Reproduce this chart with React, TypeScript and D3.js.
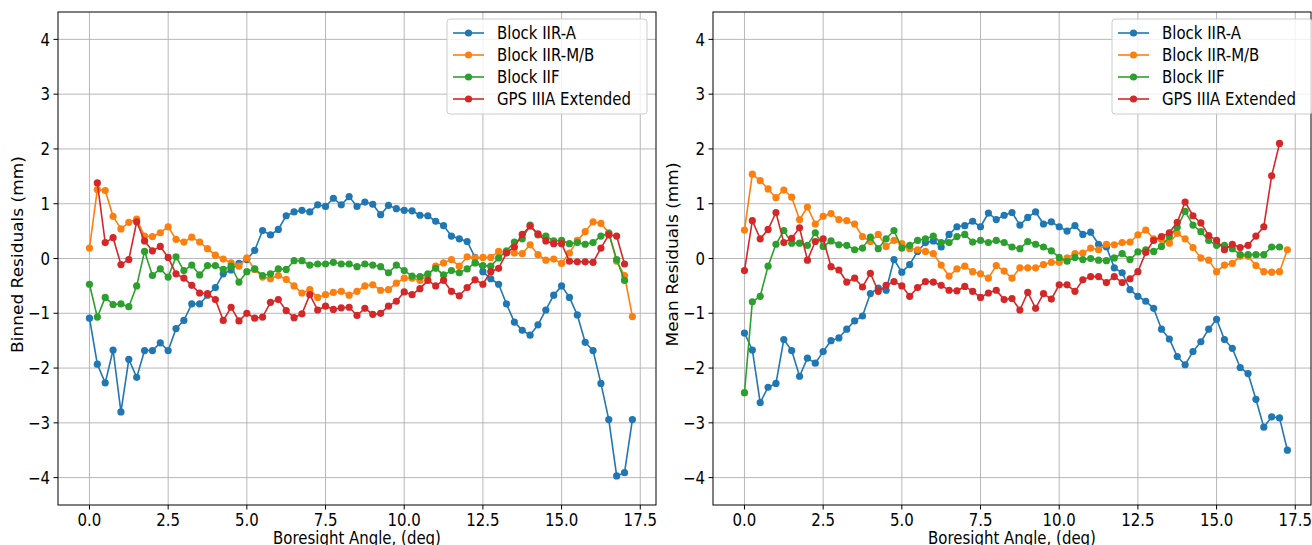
import * as d3 from 'd3';

// boresight angle bins (deg)
const angles = [
  0, 0.25, 0.5, 0.75, 1, 1.25, 1.5, 1.75, 2, 2.25, 2.5, 2.75, 3, 3.25, 3.5, 3.75, 4, 4.25, 4.5, 4.75,
  5, 5.25, 5.5, 5.75, 6, 6.25, 6.5, 6.75, 7, 7.25, 7.5, 7.75, 8, 8.25, 8.5, 8.75, 9, 9.25, 9.5, 9.75,
  10, 10.25, 10.5, 10.75, 11, 11.25, 11.5, 11.75, 12, 12.25, 12.5, 12.75, 13, 13.25, 13.5, 13.75,
  14, 14.25, 14.5, 14.75, 15, 15.25, 15.5, 15.75, 16, 16.25, 16.5, 16.75, 17, 17.25,
];

const seriesNames = ['Block IIR-A', 'Block IIR-M/B', 'Block IIF', 'GPS IIIA Extended'];
const seriesColors = ['#1f77b4', '#ff7f0e', '#2ca02c', '#d62728'];

// left panel: binned residuals (mm)
const binnedIIRA = [
  -1.09, -1.93, -2.27, -1.67, -2.8, -1.84, -2.17, -1.68, -1.68, -1.54,
  -1.68, -1.28, -1.13, -0.83, -0.83, -0.67, -0.53, -0.28, -0.21, -0.09,
  -0.02, 0.15, 0.51, 0.43, 0.53, 0.78, 0.85, 0.88, 0.85, 0.98,
  0.95, 1.1, 0.98, 1.13, 0.95, 1.03, 0.99, 0.8, 0.97, 0.91,
  0.88, 0.87, 0.79, 0.78, 0.68, 0.6, 0.41, 0.36, 0.31, 0.02,
  -0.24, -0.37, -0.47, -0.83, -1.16, -1.31, -1.4, -1.21, -0.94, -0.67,
  -0.5, -0.71, -1.03, -1.53, -1.68, -2.28, -2.94, -3.97, -3.91, -2.94,
];
const binnedIIRMB = [
  0.19, 1.26, 1.24, 0.77, 0.54, 0.66, 0.72, 0.41, 0.4, 0.47,
  0.58, 0.35, 0.3, 0.39, 0.3, 0.18, 0.06, -0.01, -0.08, -0.14,
  0.01, -0.2, -0.34, -0.37, -0.31, -0.38, -0.5, -0.63, -0.57, -0.71,
  -0.66, -0.62, -0.6, -0.67, -0.6, -0.5, -0.48, -0.58, -0.57, -0.45,
  -0.36, -0.36, -0.4, -0.31, -0.14, -0.08, -0.02, -0.14, 0.03, 0.01,
  0.02, 0.02, 0.13, 0.12, 0.1, 0.09, 0.25, 0.07, -0.03, -0.01,
  -0.09, 0.1, 0.33, 0.49, 0.67, 0.64, 0.47, -0.05, -0.31, -1.06,
];
const binnedIIF = [
  -0.47, -1.07, -0.71, -0.84, -0.83, -0.88, -0.5, 0.13, -0.31, -0.19,
  -0.34, 0.03, -0.22, -0.12, -0.3, -0.13, -0.13, -0.2, -0.14, -0.43,
  -0.24, -0.19, -0.31, -0.28, -0.19, -0.2, -0.04, -0.04, -0.12, -0.1,
  -0.1, -0.07, -0.1, -0.1, -0.15, -0.1, -0.12, -0.15, -0.26, -0.12,
  -0.22, -0.32, -0.33, -0.28, -0.18, -0.3, -0.22, -0.26, -0.19, -0.08,
  -0.13, -0.14, 0.01, 0.14, 0.3, 0.36, 0.61, 0.43, 0.41, 0.32,
  0.33, 0.27, 0.29, 0.26, 0.29, 0.41, 0.46, -0.02, -0.4, null,
];
const binnedIIIA = [
  null, 1.38, 0.29, 0.38, -0.11, -0.02, 0.67, 0.32, 0.14, 0.22,
  0.02, -0.28, -0.36, -0.49, -0.63, -0.64, -0.75, -1.13, -0.89, -1.14,
  -1.0, -1.09, -1.07, -0.8, -0.75, -0.95, -1.08, -1.01, -0.66, -0.94,
  -0.87, -0.93, -0.9, -0.89, -1.04, -0.91, -1.02, -1.0, -0.87, -0.78,
  -0.61, -0.66, -0.55, -0.4, -0.5, -0.4, -0.6, -0.68, -0.53, -0.39,
  -0.47, -0.24, -0.18, 0.1, 0.21, 0.44, 0.59, 0.45, 0.32, 0.27,
  0.27, -0.05, -0.06, -0.06, -0.07, 0.19, 0.43, 0.41, -0.1, null,
];

// right panel: mean residuals (mm)
const meanIIRA = [
  -1.36, -1.67, -2.63, -2.35, -2.28, -1.48, -1.68, -2.15, -1.82, -1.91,
  -1.7, -1.5, -1.45, -1.29, -1.14, -1.05, -0.64, -0.54, -0.58, -0.02,
  -0.25, -0.11, 0.13, 0.29, 0.32, 0.21, 0.44, 0.58, 0.6, 0.68,
  0.58, 0.83, 0.71, 0.79, 0.84, 0.61, 0.75, 0.85, 0.63, 0.67,
  0.58, 0.5, 0.6, 0.44, 0.48, 0.26, 0.21, -0.17, -0.26, -0.57,
  -0.69, -0.78, -0.91, -1.29, -1.47, -1.79, -1.94, -1.7, -1.52, -1.29,
  -1.11, -1.48, -1.64, -1.99, -2.1, -2.57, -3.08, -2.89, -2.91, -3.5,
];
const meanIIRMB = [
  0.52, 1.54, 1.42, 1.27, 1.11, 1.25, 1.12, 0.71, 0.94, 0.63,
  0.77, 0.82, 0.71, 0.69, 0.63, 0.4, 0.31, 0.44, 0.22, 0.33,
  0.27, 0.18, 0.16, 0.13, 0.09, -0.12, -0.32, -0.19, -0.14, -0.24,
  -0.28, -0.36, -0.13, -0.23, -0.36, -0.17, -0.17, -0.17, -0.11, -0.07,
  -0.07, 0.01, 0.09, 0.1, 0.19, 0.16, 0.26, 0.25, 0.29, 0.3,
  0.43, 0.52, 0.36, 0.35, 0.28, 0.46, 0.36, 0.2, 0.01, -0.03,
  -0.24, -0.12, -0.09, 0.04, 0.04, -0.13, -0.24, -0.25, -0.24, 0.16,
];
const meanIIF = [
  -2.45, -0.79, -0.69, -0.14, 0.26, 0.51, 0.28, 0.28, 0.24, 0.47,
  0.22, 0.32, 0.25, 0.24, 0.16, 0.19, 0.39, 0.18, 0.36, 0.51,
  0.19, 0.24, 0.33, 0.36, 0.41, 0.29, 0.29, 0.4, 0.44, 0.3,
  0.33, 0.29, 0.33, 0.29, 0.21, 0.18, 0.31, 0.26, 0.21, 0.14,
  0.02, -0.05, 0.02, -0.02, 0.0, -0.03, -0.04, 0.01, 0.09, -0.02,
  0.12, 0.16, 0.13, 0.22, 0.4, 0.57, 0.86, 0.61, 0.49, 0.33,
  0.24, 0.24, 0.18, 0.07, 0.07, 0.07, 0.07, 0.21, 0.21, null,
];
const meanIIIA = [
  -0.22, 0.69, 0.36, 0.53, 0.84, 0.29, 0.37, 0.56, -0.03, 0.31,
  0.36, -0.15, -0.21, -0.43, -0.36, -0.52, -0.27, -0.6, -0.49, -0.42,
  -0.5, -0.69, -0.53, -0.42, -0.43, -0.49, -0.58, -0.59, -0.51, -0.6,
  -0.71, -0.63, -0.58, -0.75, -0.73, -0.94, -0.62, -0.91, -0.64, -0.74,
  -0.48, -0.48, -0.6, -0.39, -0.33, -0.33, -0.44, -0.33, -0.44, -0.37,
  -0.24, 0.11, 0.33, 0.4, 0.47, 0.66, 1.03, 0.78, 0.65, 0.42,
  0.33, 0.16, 0.26, 0.2, 0.24, 0.41, 0.58, 1.51, 2.1, null,
];

const xTicks = [0, 2.5, 5, 7.5, 10, 12.5, 15, 17.5];
const yTicks = [-4, -3, -2, -1, 0, 1, 2, 3, 4];

const FONT = 'DejaVu Sans, sans-serif';
const FS = 17;
const SQUEEZE = 0.88; // the source figure is a little narrower than tall
const W = 1312;
const H = 545;

// text drawn at (x, y) and squeezed horizontally around that anchor
function T({ x, y, anchor = 'start', dy, rotate = 0, children }: any) {
  const tf = rotate
    ? `translate(${x},${y}) rotate(${rotate}) scale(1,${SQUEEZE})`
    : `translate(${x},${y}) scale(${SQUEEZE},1)`;
  return (
    <text transform={tf} textAnchor={anchor} dy={dy} fontSize={FS} fontFamily={FONT} fill="#000">
      {children}
    </text>
  );
}

type PanelProps = {
  left: number;
  right: number;
  yLabel: string;
  series: (number | null)[][];
  legendX: number;
};

function Panel({ left, right, yLabel, series, legendX }: PanelProps) {
  const top = 12;
  const bottom = 505;
  const x = d3.scaleLinear().domain([-1, 18]).range([left, right]);
  const y = d3.scaleLinear().domain([-4.5, 4.5]).range([bottom, top]);

  const line = d3
    .line<number | null>()
    .defined((d) => d != null)
    .x((_, i) => x(angles[i]))
    .y((d) => y(d as number));

  const fmtY = (v: number) => (v < 0 ? '\u2212' + Math.abs(v) : String(v));

  return (
    <g>
      {/* grid */}
      {xTicks.map((t) => (
        <line key={'gx' + t} x1={x(t)} x2={x(t)} y1={top} y2={bottom} stroke="#b0b0b0" strokeWidth={0.9} />
      ))}
      {yTicks.map((t) => (
        <line key={'gy' + t} x1={left} x2={right} y1={y(t)} y2={y(t)} stroke="#b0b0b0" strokeWidth={0.9} />
      ))}

      {/* series */}
      {series.map((vals, si) => (
        <g key={'s' + si}>
          <path d={line(vals) ?? ''} fill="none" stroke={seriesColors[si]} strokeWidth={1.6} />
          {vals.map((v, i) =>
            v == null ? null : (
              <circle key={i} cx={x(angles[i])} cy={y(v)} r={3.6} fill={seriesColors[si]} />
            )
          )}
        </g>
      ))}

      {/* frame */}
      <rect x={left} y={top} width={right - left} height={bottom - top} fill="none" stroke="#000" strokeWidth={1} />

      {/* x ticks */}
      {xTicks.map((t) => (
        <g key={'tx' + t}>
          <line x1={x(t)} x2={x(t)} y1={bottom} y2={bottom + 4.5} stroke="#000" strokeWidth={1} />
          <T x={x(t)} y={bottom + 21} anchor="middle">
            {t.toFixed(1)}
          </T>
        </g>
      ))}
      {/* y ticks */}
      {yTicks.map((t) => (
        <g key={'ty' + t}>
          <line x1={left - 4.5} x2={left} y1={y(t)} y2={y(t)} stroke="#000" strokeWidth={1} />
          <T x={left - 8} y={y(t)} dy="0.36em" anchor="end">
            {fmtY(t)}
          </T>
        </g>
      ))}

      {/* axis labels */}
      <T x={(left + right) / 2} y={bottom + 39} anchor="middle">
        Boresight Angle, (deg)
      </T>
      <T x={left - 35} y={(top + bottom) / 2 - 4} anchor="middle" rotate={-90}>
        {yLabel}
      </T>

      {/* legend */}
      <g transform={`translate(${legendX},19)`}>
        <rect x={0} y={0} width={200} height={95} rx={3} fill="#fff" fillOpacity={0.8} stroke="#cccccc" />
        {seriesNames.map((name, i) => (
          <g key={name} transform={`translate(0,${14 + i * 22})`}>
            <line x1={6} x2={37} y1={0} y2={0} stroke={seriesColors[i]} strokeWidth={1.6} />
            <circle cx={21.5} cy={0} r={3.6} fill={seriesColors[i]} />
            <T x={50} y={0} dy="0.36em">
              {name}
            </T>
          </g>
        ))}
      </g>
    </g>
  );
}

export default function App() {
  return (
    <svg width={W} height={H} style={{ position: 'absolute', left: 0, top: 0, background: '#fff' }}>
      <rect width={W} height={H} fill="#fff" />
      <Panel
        left={58}
        right={656}
        yLabel="Binned Residuals (mm)"
        series={[binnedIIRA, binnedIIRMB, binnedIIF, binnedIIIA]}
        legendX={447}
      />
      <Panel
        left={713}
        right={1311}
        yLabel="Mean Residuals (mm)"
        series={[meanIIRA, meanIIRMB, meanIIF, meanIIIA]}
        legendX={1112}
      />
    </svg>
  );
}
